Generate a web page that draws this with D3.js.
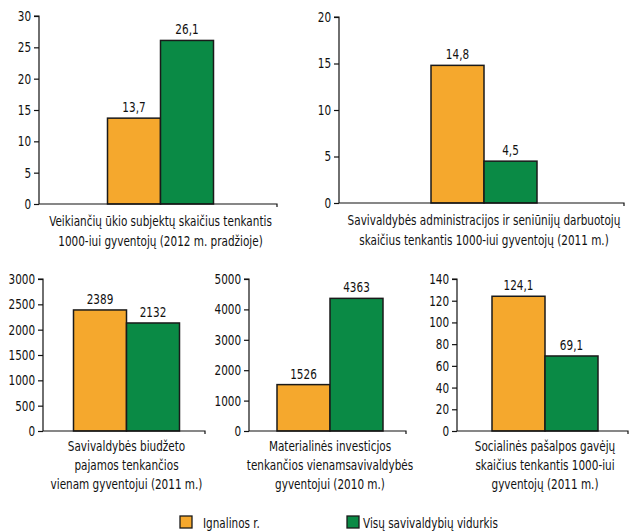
<!DOCTYPE html>
<html>
<head>
<meta charset="utf-8">
<script src="https://cdn.jsdelivr.net/npm/d3@7"></script>
<style>
  body { margin: 0; background: #fff; }
  svg text { font-family: "Liberation Sans Narrow", "DejaVu Sans Condensed", sans-serif; fill: #111; }
</style>
</head>
<body>
<svg id="canvas"></svg>
<script>
// series shown in every panel
const seriesNames = ['Ignalinos r.', 'Visų savivaldybių vidurkis'];
const seriesColors = ['#f5a82d', '#0a8a45'];

// values per panel (Ignalina, average of all municipalities)
const ignalinaValues = [13.7, 14.8, 2389, 1526, 124.1];
const averageValues = [26.1, 4.5, 2132, 4363, 69.1];

// y axis extents and tick steps
const yMaxes = [30, 20, 3000, 5000, 140];
const yTickSteps = [5, 5, 500, 1000, 20];

// category captions under each panel
const captions = [
    ['Veikiančių ūkio subjektų skaičius tenkantis', '1000-iui gyventojų (2012 m. pradžioje)'],
    ['Savivaldybės administracijos ir seniūnijų darbuotojų', 'skaičius tenkantis 1000-iui gyventojų (2011 m.)'],
    ['Savivaldybės biudžeto', 'pajamos tenkančios', 'vienam gyventojui (2011 m.)'],
    ['Materialinės investicjos', 'tenkančios vienamsavivaldybės', 'gyventojui (2010 m.)'],
    ['Socialinės pašalpos gavėjų', 'skaičius tenkantis 1000-iui', 'gyventojų (2011 m.)']
];

const width = 629;
const height = 532;
const squeeze = 0.83; // condensed look of the original font

const canvas = d3.select('#canvas').attr('width', width).attr('height', height);

// panel frames: left axis x, right end of x axis, baseline y, top y
const panels = [
    { left: 39, right: 278, bottom: 204, top: 16 },
    { left: 339, right: 625, bottom: 203, top: 17 },
    { left: 43, right: 206, bottom: 431, top: 279 },
    { left: 249, right: 407, bottom: 431, top: 279 },
    { left: 457, right: 629, bottom: 431, top: 279 }
];

const fmt = (v) => String(v).replace('.', ',');

panels.forEach((p, i) => {
    const g = canvas.append('g');
    const vals = [ignalinaValues[i], averageValues[i]];

    const y = d3.scaleLinear().domain([0, yMaxes[i]]).range([p.bottom, p.top]);
    const cx = (p.left + p.right) / 2 + 2;
    const x = d3.scaleBand().domain(seriesNames).range([cx - 53, cx + 53]).padding(0);

    // y axis
    const yAxis = d3.axisLeft(y)
        .tickValues(d3.range(0, yMaxes[i] + 1, yTickSteps[i]))
        .tickSize(5)
        .tickPadding(4.5)
        .tickFormat(d3.format('d'));
    const ya = g.append('g').attr('transform', `translate(${p.left},0)`).call(yAxis);
    ya.selectAll('.domain').attr('d', `M-5,${p.top}H0V${p.bottom}`);
    ya.selectAll('line, path').attr('stroke', '#111').attr('stroke-width', 1.2);
    ya.selectAll('text')
        .style('font-size', '14px')
        .attr('transform', `scale(${squeeze},1)`);

    // bars
    g.selectAll('rect')
        .data(vals)
        .enter()
        .append('rect')
        .attr('x', (d, j) => x(seriesNames[j]))
        .attr('y', (d) => y(d))
        .attr('width', x.bandwidth())
        .attr('height', (d) => y(0) - y(d))
        .attr('fill', (d, j) => seriesColors[j])
        .attr('stroke', '#1a1a1a')
        .attr('stroke-width', 1.5);

    // value labels
    g.selectAll('.val')
        .data(vals)
        .enter()
        .append('text')
        .attr('class', 'val')
        .attr('transform', (d, j) =>
            `translate(${x(seriesNames[j]) + x.bandwidth() / 2},${y(d) - 6}) scale(${squeeze},1)`)
        .attr('text-anchor', 'middle')
        .style('font-size', '14px')
        .text(fmt);

    // x axis line with small end ticks
    g.append('path')
        .attr('d', `M${p.left},${p.bottom}H${p.right - 1}V${p.bottom + 3}`)
        .attr('fill', 'none')
        .attr('stroke', '#111')
        .attr('stroke-width', 1.2);

    // caption
    const firstLine = i < 2 ? p.bottom + 22 : p.bottom + 20;
    const lineStep = i < 2 ? 20 : 19;
    g.append('g')
        .selectAll('text')
        .data(captions[i])
        .enter()
        .append('text')
        .attr('transform', (d, k) => `translate(${cx},${firstLine + k * lineStep}) scale(${squeeze},1)`)
        .attr('text-anchor', 'middle')
        .style('font-size', '14px')
        .text((d) => d);
});

// legend
const legendX = [180, 347];
const legend = canvas.append('g')
    .selectAll('g')
    .data(seriesNames)
    .enter()
    .append('g')
    .attr('transform', (d, j) => `translate(${legendX[j]},516)`);
legend.append('rect')
    .attr('width', 12)
    .attr('height', 12)
    .attr('fill', (d, j) => seriesColors[j])
    .attr('stroke', '#1a1a1a')
    .attr('stroke-width', 1.3);
legend.append('text')
    .attr('transform', (d, j) => `translate(${j === 0 ? 23 : 16},11.5) scale(${squeeze},1)`)
    .style('font-size', '14px')
    .text((d) => d);
</script>
</body>
</html>
